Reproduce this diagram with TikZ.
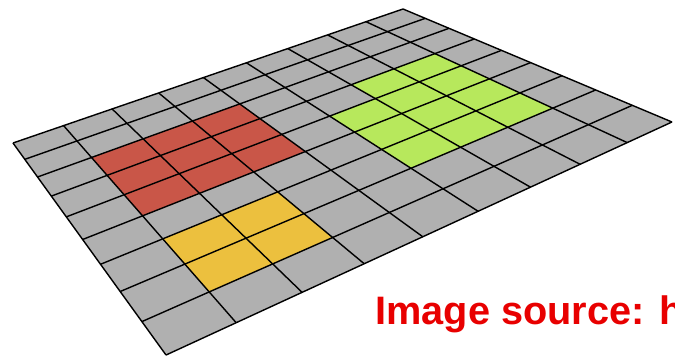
\documentclass[tikz,border=0pt]{standalone}
\usepackage{fontspec}
\setmainfont{Liberation Sans}
\definecolor{cellgray}{RGB}{176,176,176}
\definecolor{cellred}{RGB}{201,86,72}
\definecolor{cellgreen}{RGB}{183,232,92}
\definecolor{cellyellow}{RGB}{236,192,62}
\definecolor{srcred}{RGB}{232,0,0}
\tikzset{
  gridline/.style={black, line width=0.8pt, line join=round},
  srctext/.style={text=srcred, font=\bfseries\fontsize{22.6}{26}\selectfont, inner sep=0pt}
}
\begin{document}
\begin{tikzpicture}[x=0.02cm, y=-0.02cm]
    \useasboundingbox (0,0) rectangle (675,357);

    % Grid points (perspective)
    \foreach \i in {0,...,9} {
      \foreach \j in {0,...,9} {
        \pgfmathsetmacro{\uu}{\i/9}
        \pgfmathsetmacro{\vv}{\j/9}
        \pgfmathsetmacro{\ww}{1+0.19245*\uu-0.33156*\vv}
        \pgfmathsetmacro{\px}{(467.56*\uu+97.96*\vv+13)/\ww}
        \pgfmathsetmacro{\py}{(-132.27*\uu+94.30*\vv+143)/\ww}
        \coordinate (p-\i-\j) at (\px,\py);
      }
    }

    % Floor
    \fill[cellgray] (p-0-0) -- (p-9-0) -- (p-9-9) -- (p-0-9) -- cycle;

    % Regions
    \fill[cellred] (p-1-2) -- (p-4-2) -- (p-4-5) -- (p-1-5) -- cycle;
    \fill[cellyellow] (p-1-6) -- (p-3-6) -- (p-3-8) -- (p-1-8) -- cycle;
    \fill[cellgreen] (p-6-3) -- (p-8-3) -- (p-8-7) -- (p-5-7) -- (p-5-4) -- (p-6-4) -- cycle;

    % Grid lines
    \foreach \k in {0,...,9} {
      \draw[gridline] (p-\k-0) -- (p-\k-9);
      \draw[gridline] (p-0-\k) -- (p-9-\k);
    }

    % Caption
    \node[srctext, anchor=base west] (src) at (375,325) {Image source: h};
\end{tikzpicture}
\end{document}
